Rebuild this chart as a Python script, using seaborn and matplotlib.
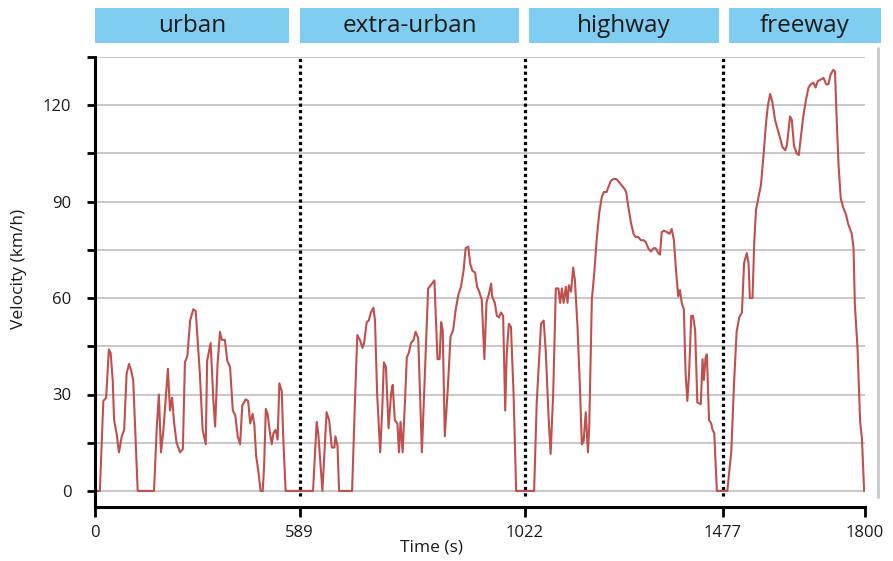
import numpy as np
import pandas as pd
import matplotlib
matplotlib.use("Agg")
import matplotlib.pyplot as plt
import seaborn as sns
from matplotlib.patches import Rectangle
from matplotlib.lines import Line2D

# ---------------- data ----------------
phases = ["urban", "extra-urban", "highway", "freeway"]
boundaries = [0, 589, 1022, 1477, 1800]
y_major = [0, 30, 60, 90, 120]
y_minor = [15, 45, 75, 105, 135]

urban_t = [0, 14, 24, 32, 40, 45, 51, 55, 62, 69, 77, 84, 91, 98, 104, 110, 115, 123, 170,
           178, 184, 190, 197, 204, 210, 216, 222, 228, 235, 245, 253, 259, 266, 274, 283,
           290, 295, 302, 310, 319, 323, 333, 341, 346, 353, 360, 365, 374, 381, 389, 397,
           404, 411, 418, 424, 434, 441, 447, 454, 459, 464, 470, 477, 483, 487, 492, 497,
           504, 509, 514, 520, 526, 531, 538, 542, 549]
urban_v = [0, 0, 28, 29, 44, 43, 34.5, 22, 18, 12, 17, 19, 36.5, 39.5, 37.5, 34.5, 21, 0, 0,
           20, 30, 12, 19, 29, 38, 25, 29, 21, 15, 12, 13, 40, 42, 53, 56.5,
           56, 48, 36.5, 19, 14.5, 40.5, 46, 28, 20, 39.5, 49.5, 47, 47, 40.5, 38.5, 25,
           23.5, 17, 14.5, 26.5, 28.5, 28, 21, 24, 20.5, 11, 6.5, 0, 0, 7.5, 25.5, 24,
           18, 14.5, 18, 19, 16, 33.5, 31, 17, 0]

extra_t = [589, 615, 622, 625, 633, 641, 646, 651, 656, 658, 662, 665, 690, 696, 700, 705,
           710, 713, 718, 722, 726, 731, 734, 738, 744, 748, 751, 755, 760, 765, 768, 772,
           777, 780, 783, 787, 792, 795, 799, 803, 808, 812, 817, 824, 830, 836, 841, 848,
           854, 858, 861, 864, 868, 874, 879, 884, 889, 894, 899, 904, 908, 913, 917, 921,
           926, 930, 934, 939, 944, 948, 953, 957, 959, 964, 968, 972, 976, 980, 984, 987,
           991, 995, 1000, 1005]
extra_v = [0, 0, 21.5, 18, 0, 24.5, 22, 13.5, 13.5, 17, 14, 0, 0, 30.5, 48.5, 47,
           44.5, 46, 52.5, 53, 55.5, 57, 53, 30.5, 12, 26, 40, 38.5, 19.5, 30.5, 33, 22,
           21, 12, 21.5, 12, 29.5, 41.5, 43, 46, 47, 49.5, 47.5, 12, 37.5, 63, 64, 65.5,
           41, 41, 52.5, 50, 17, 32.5, 48, 50, 56.5, 61, 63.5, 68.5, 75.5, 76, 70.5, 68.5,
           68, 63.5, 62, 59.5, 41, 58.5, 61.5, 64.5, 60.5, 58.5, 54.5, 54, 55.5, 54.5, 25, 43,
           52, 51, 30.5, 0]

highway_t = [1022, 1043, 1049, 1059, 1065, 1070, 1076, 1081, 1087, 1093, 1099, 1103, 1107,
             1111, 1116, 1120, 1123, 1128, 1133, 1137, 1143, 1149, 1153, 1157, 1162, 1167,
             1170, 1176, 1182, 1187, 1193, 1199, 1204, 1210, 1214, 1220, 1225, 1233, 1239,
             1245, 1251, 1255, 1260, 1266, 1272, 1277, 1283, 1289, 1295, 1300, 1306, 1312,
             1318, 1323, 1329, 1333, 1337, 1342, 1349, 1355, 1360, 1365, 1370, 1375, 1379,
             1383, 1388, 1392, 1396, 1400, 1405, 1409, 1414, 1419, 1427, 1431, 1434, 1438,
             1441, 1446, 1451, 1454, 1458, 1464]
highway_v = [0, 0, 27.5, 52, 53, 43, 24, 11.5, 30.5, 63, 63, 58.5, 63,
             58.5, 63.5, 58.5, 64, 62, 69.5, 65.5, 51, 30.5, 14.5, 15.5, 24.5, 12,
             20, 59.5, 68.5, 78, 86.5, 91.5, 93, 93, 94.5, 96.5, 97, 97, 96,
             95, 94, 93, 88.5, 83.5, 80, 79, 79, 78, 78, 77.5, 75.5, 74.5,
             75.5, 75.5, 74, 73.5, 80.5, 81, 80.5, 80, 81.5, 78, 68.5, 60.5, 62.5,
             58.5, 56.5, 36.5, 28, 36.5, 54.5, 54.5, 50, 27.5, 27, 41, 34.5, 41.5,
             42.5, 22, 21, 19, 18, 0]

freeway_t = [1477, 1488, 1497, 1503, 1509, 1515, 1521, 1526, 1532, 1536, 1539, 1545, 1549,
             1553, 1558, 1564, 1570, 1576, 1580, 1585, 1590, 1596, 1601, 1607, 1613, 1619,
             1623, 1626, 1630, 1634, 1639, 1645, 1650, 1655, 1660, 1666, 1672, 1677, 1683,
             1688, 1693, 1700, 1706, 1712, 1717, 1722, 1728, 1732, 1736, 1740, 1745, 1751,
             1757, 1762, 1770, 1774, 1777, 1783, 1789, 1793, 1798]
freeway_v = [0, 0, 12.5, 33, 49.5, 54, 55.5, 71, 74, 71, 60, 60, 77.5,
             87.5, 91, 95, 104.5, 115, 120, 123.5, 121, 115.5, 113, 110, 107, 106,
             107.5, 111.5, 116.5, 115.5, 107.5, 105, 104.5, 110.5, 116.5, 121.5, 125.5, 126.5, 127,
             125.5, 127.5, 128, 128.5, 126.5, 126.5, 129.5, 131, 130.5, 115, 101.5, 91, 88,
             86, 83, 80, 75.5, 58, 44.5, 21.5, 16.5, 0]

df = pd.DataFrame({
    "Time (s)": urban_t + extra_t + highway_t + freeway_t,
    "Velocity (km/h)": urban_v + extra_v + highway_v + freeway_v,
})

# ---------------- style ----------------
sns.set_theme(style="white")
plt.rcParams["font.family"] = ["Open Sans", "DejaVu Sans"]

W, H = 893, 561
fig = plt.figure(figsize=(W / 100, H / 100), dpi=100)
ax = fig.add_axes([95 / W, 1 - 507 / H, 770 / W, 450 / H])

# piecewise-linear time axis (phases drawn with their own widths)
knot_pos = [0, 204.5, 430, 627.5, 770]
fwd = lambda t: np.interp(t, boundaries, knot_pos)
inv = lambda p: np.interp(p, knot_pos, boundaries)
ax.set_xscale("function", functions=(fwd, inv))

sns.lineplot(data=df, x="Time (s)", y="Velocity (km/h)", ax=ax, color="#c0504d",
             lw=1.5, sort=False, estimator=None)

ax.set_xlim(0, 1800)
ax.set_ylim(-5, 135)
ax.set_xticks(boundaries)
ax.set_xticklabels([str(b) for b in boundaries])
ax.set_yticks(y_major)
ax.set_yticks(y_minor, minor=True)
ax.set_yticklabels([str(v) for v in y_major])

ax.grid(False)
ax.grid(axis="y", which="both", color="#c4c4c4", lw=1.3)
ax.set_axisbelow(True)

ax.vlines(boundaries[1:4], -1.5, 135, colors="black", linestyles=(0, (1, 1)), lw=2.3,
          zorder=1)

for s in ["top", "right"]:
    ax.spines[s].set_visible(False)
for s in ["left", "bottom"]:
    ax.spines[s].set_color("black")
    ax.spines[s].set_linewidth(2.2)

ax.tick_params(axis="y", which="both", direction="out", length=6, width=2.0,
               color="black", left=True, pad=11, labelsize=12, labelcolor="#1a1a1a")
ax.tick_params(axis="x", which="major", direction="out", length=7, width=2.0,
               color="black", bottom=True, pad=6, labelsize=12, labelcolor="#1a1a1a")
ax.set_xlabel("")
ax.set_ylabel("")

fig.text(19 / W, 1 - 269 / H, "Velocity (km/h)", rotation=90, ha="center", va="center",
         fontsize=12.5, color="#1a1a1a")
fig.text(431 / W, 1 - 548 / H, "Time (s)", ha="center", va="center",
         fontsize=12.5, color="#1a1a1a")

# right gray frame line
fig.add_artist(Line2D([878 / W, 878 / W], [1 - 48 / H, 1 - 497 / H],
                      transform=fig.transFigure, color="#c8c8c8", lw=2))

# phase header boxes
header_px = [(95, 289), (300, 519), (529, 719), (729, 881)]
for name, (x0, x1) in zip(phases, header_px):
    fig.add_artist(Rectangle((x0 / W, 1 - 43 / H), (x1 - x0) / W, 35 / H,
                             transform=fig.transFigure, color="#80cdf2", lw=0))
    fig.text((x0 + x1) / 2 / W, 1 - 26 / H, name, ha="center", va="center",
             fontsize=17.5, color="#1a1a1a")

fig.savefig("out.png", dpi=100)
